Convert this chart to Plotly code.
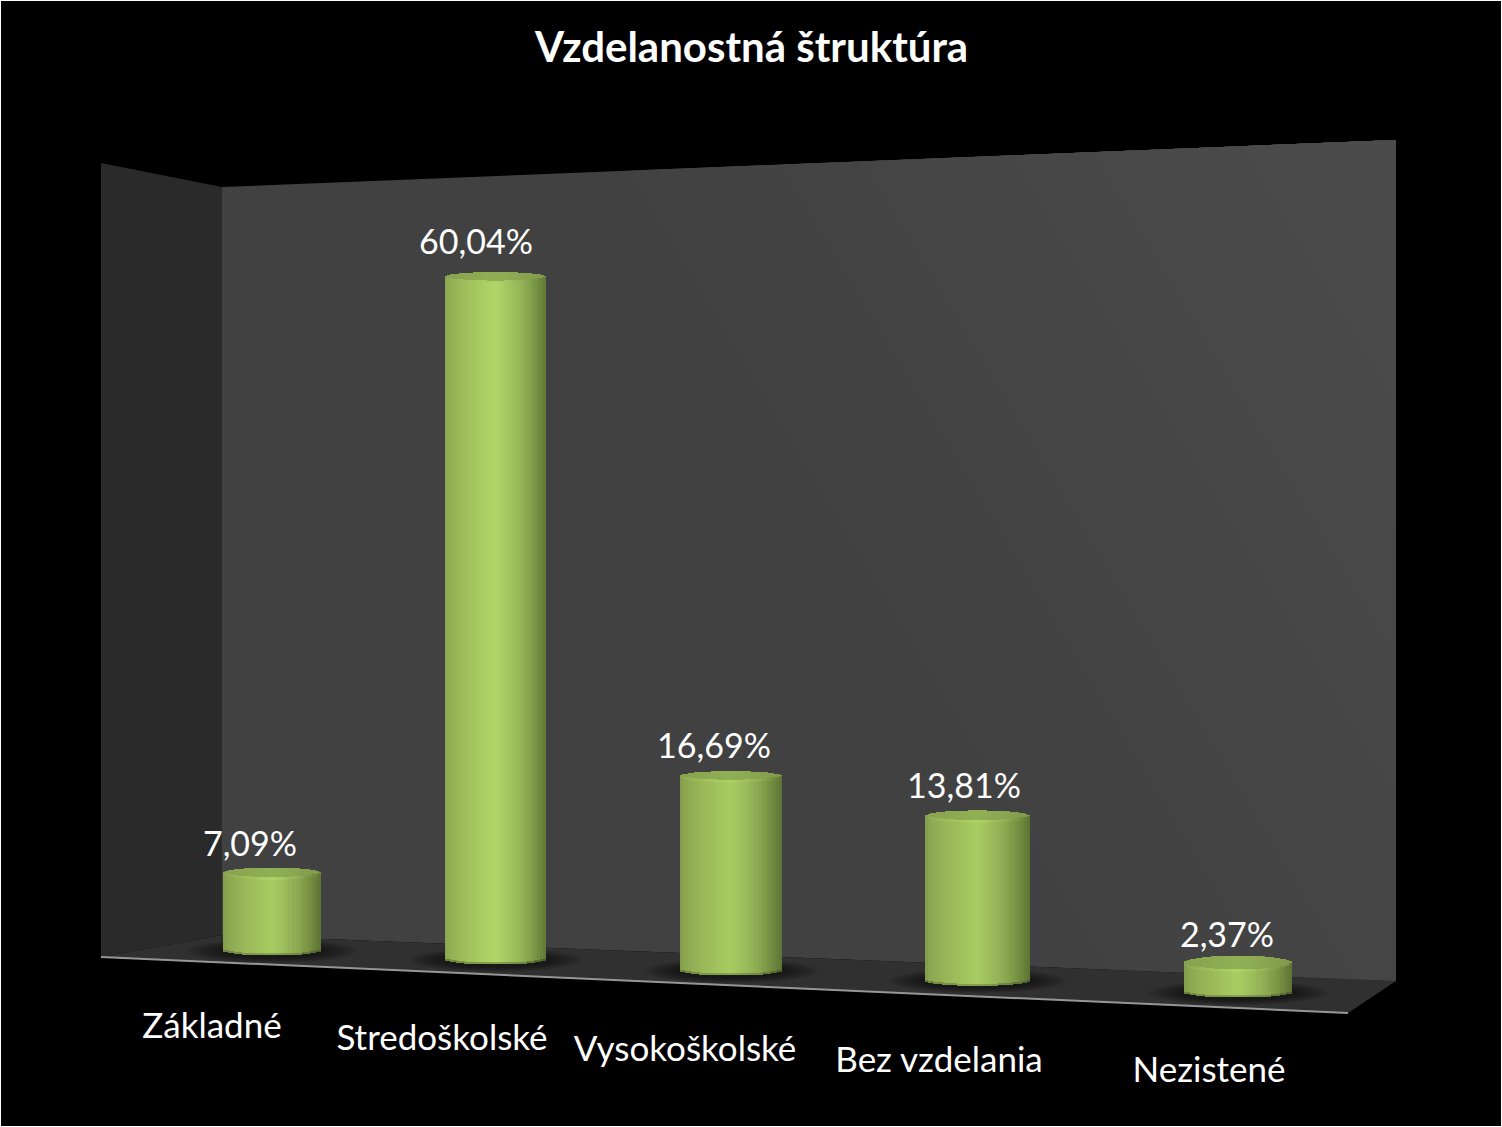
import numpy as np
import plotly.graph_objects as go

# ---- chart data ----
title = "Vzdelanostná štruktúra"
categories = ["Základné", "Stredoškolské", "Vysokoškolské", "Bez vzdelania", "Nezistené"]
values = [7.09, 60.04, 16.69, 13.81, 2.37]
value_labels = ["7,09%", "60,04%", "16,69%", "13,81%", "2,37%"]

# ---- perspective projection of the 3D scene (page pixels) ----
bar_x = np.array([272.0, 495.5, 731.0, 977.5, 1238.0])
bar_w = np.array([98.0, 101.0, 102.0, 105.0, 108.0])
floor_y = np.array([950.0, 959.0, 970.0, 980.0, 992.0])
px_per_pct = np.array([10.86, 11.36, 11.62, 11.88, 12.2])
top_ry = np.array([5.5, 5.0, 5.0, 5.5, 7.5])
bottom_ry = np.array([5.0, 5.0, 5.0, 5.5, 5.0])
label_x = [250, 476, 714, 964, 1227]
label_gap = [26, 31, 27, 26, 25]
cat_x = [212, 442, 685, 939, 1209]
cat_y = [1029, 1041, 1052, 1063, 1073]

LEFT = [(101, 163), (222, 187), (222, 935), (101, 957)]
BACK = [(222, 187), (1396, 140), (1396, 981), (222, 935)]
FLOOR = [(101, 957), (222, 935), (1396, 981), (1348, 1013)]
FONT = "Lato, Carlito, sans-serif"
N = 36

stops_t = [0.0, 0.04, 0.12, 0.30, 0.50, 0.58, 0.75, 0.90, 1.0]
stops_rgb = np.array([[128, 154, 74], [138, 165, 80], [146, 174, 84], [158, 189, 90],
                      [168, 204, 98], [162, 195, 94], [144, 172, 84], [116, 142, 64], [92, 114, 52]], float)


def shade(t, gain=1.0):
    c = [min(255, np.interp(t, stops_t, stops_rgb[:, k]) * gain) for k in range(3)]
    return f"rgb({c[0]:.0f},{c[1]:.0f},{c[2]:.0f})"


def path(pts):
    return "M " + " L ".join(f"{x:.1f},{y:.1f}" for x, y in pts) + " Z"


def clip(pts, nx, ny, d):
    out = []
    for i in range(len(pts)):
        a, b = pts[i], pts[(i + 1) % len(pts)]
        fa, fb = nx * a[0] + ny * a[1] - d, nx * b[0] + ny * b[1] - d
        if fa >= 0:
            out.append(a)
        if fa * fb < 0:
            s = fa / (fa - fb)
            out.append((a[0] + s * (b[0] - a[0]), a[1] + s * (b[1] - a[1])))
    return out


shapes = [dict(type="path", path=path(LEFT), fillcolor="#2a2a2a", line_width=0, layer="below"),
          dict(type="path", path=path(BACK), fillcolor="rgb(65,65,65)", line_width=0, layer="below")]
# soft gradient of the back wall: one-level colour steps
for lv in range(66, 77):
    d = 450 + (lv - 65) / 11 * 862
    poly = clip(BACK, 1.0, -0.6, d)
    if len(poly) >= 3:
        shapes.append(dict(type="path", path=path(poly), fillcolor=f"rgb({lv},{lv},{lv})",
                           line_width=0, layer="below"))
shapes.append(dict(type="path", path=path(FLOOR), fillcolor="#303030", line_width=0, layer="below"))
shapes.append(dict(type="line", x0=FLOOR[0][0], y0=FLOOR[0][1], x1=FLOOR[3][0], y1=FLOOR[3][1],
                   line=dict(color="#969696", width=2), layer="below"))
# soft contact shadows
for i in range(5):
    for s in np.linspace(1.0, 0.0, 8):
        rx = bar_w[i] / 2 + 4 + 32 * s
        ry = 7 + 5 * s
        cy = floor_y[i] + 1
        shapes.append(dict(type="circle", x0=bar_x[i] - rx, x1=bar_x[i] + rx, y0=cy - ry, y1=cy + ry,
                           fillcolor="rgba(0,0,0,0.07)", line_width=0, layer="below"))

fig = go.Figure()
vals = np.array(values)
top_y = floor_y - vals * px_per_pct
ts = (np.arange(N) + 0.5) / N
side_gain = np.array([1.0, 1.05, 1.0, 1.0, 1.0])


def add_strips(base_fn, height_fn, color_fn):
    for j, t in enumerate(ts):
        u = np.sqrt(1 - (2 * t - 1) ** 2)
        fig.add_trace(go.Bar(
            x=bar_x, y=height_fn(u), base=base_fn(u),
            width=bar_w / N + 0.7, offset=-bar_w / 2 + j * bar_w / N - 0.35,
            marker=dict(color=[color_fn(t, i) for i in range(5)], line_width=0),
            hoverinfo="skip", showlegend=False))


# cylinder body with rounded bottom
add_strips(lambda u: floor_y + bottom_ry * u, lambda u: (top_y - (floor_y + bottom_ry * u)),
           lambda t, i: shade(t, side_gain[i]))
# dark line at the foot of each cylinder
add_strips(lambda u: floor_y + bottom_ry * u, lambda u: -1.5 * np.ones(5),
           lambda t, i: shade(t, 0.8))
# top cap: face
add_strips(lambda u: top_y + top_ry * u, lambda u: -2 * top_ry * u,
           lambda t, i: shade(t * 0.4 + 0.3, 0.86))
# top cap: bright front rim
add_strips(lambda u: top_y + top_ry * u + 1.2, lambda u: -2.6 * np.ones(5),
           lambda t, i: shade(t, 1.04))

fig.add_trace(go.Scatter(x=label_x, y=top_y - np.array(label_gap), mode="text", text=value_labels,
                         textposition="middle center", textfont=dict(family=FONT, size=34, color="white"),
                         hoverinfo="skip", showlegend=False))
fig.add_trace(go.Scatter(x=cat_x, y=cat_y, mode="text", text=categories,
                         textposition="middle center", textfont=dict(family=FONT, size=35, color="white"),
                         hoverinfo="skip", showlegend=False))

fig.update_layout(
    width=1502, height=1127, margin=dict(l=1, r=1, t=1, b=1),
    paper_bgcolor="white", plot_bgcolor="black", barmode="overlay", bargap=0,
    shapes=shapes,
    annotations=[dict(text=f"<b>{title}</b>", x=751, y=46, xref="x", yref="y", showarrow=False,
                      font=dict(family=FONT, size=42, color="white"))],
    xaxis=dict(range=[1, 1501], visible=False, fixedrange=True),
    yaxis=dict(range=[1126, 1], visible=False, fixedrange=True),
)
fig.write_html("out.html", config=dict(displayModeBar=False),
               post_script="document.body.style.margin='0';document.documentElement.style.overflow='hidden';")
